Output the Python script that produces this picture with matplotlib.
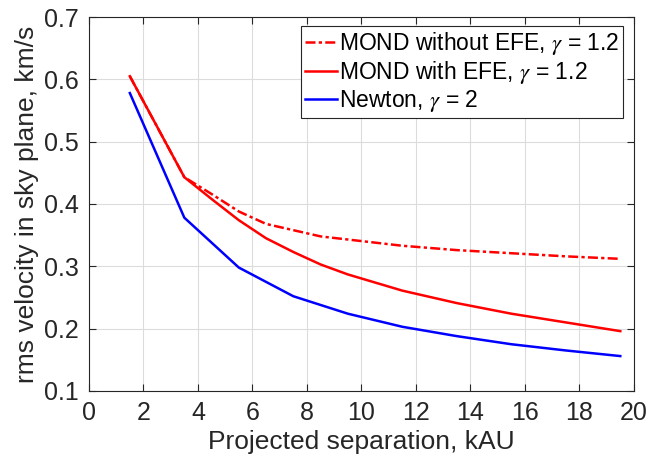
import numpy as np
import matplotlib
matplotlib.use('Agg')
import matplotlib.pyplot as plt

plt.rcParams['font.family'] = ['Liberation Sans', 'DejaVu Sans']
plt.rcParams['mathtext.fontset'] = 'stix'

# projected separation (kAU)
x_mond = [1.5, 3.5, 4.5, 5.5, 6.5, 7.5, 8.5, 9.5, 11.5, 13.5, 15.5, 17.5, 19.5]
x_newton = [1.5, 3.5, 5.5, 7.5, 9.5, 11.5, 13.5, 15.5, 17.5, 19.5]

# rms sky-plane velocity (km/s)
v_mond_noefe = [0.605, 0.443, 0.416, 0.388, 0.368, 0.358, 0.348, 0.343, 0.333, 0.326, 0.321, 0.316, 0.312]
v_mond_efe = [0.605, 0.443, 0.408, 0.374, 0.345, 0.323, 0.303, 0.287, 0.261, 0.241, 0.224, 0.210, 0.196]
v_newton = [0.578, 0.378, 0.298, 0.252, 0.224, 0.203, 0.188, 0.175, 0.165, 0.156]

labels = [r'MOND without EFE, $\gamma$ = 1.2',
          r'MOND with EFE, $\gamma$ = 1.2',
          r'Newton, $\gamma$ = 2']

xticks = np.arange(0, 21, 2)
yticks = [0.1, 0.2, 0.3, 0.4, 0.5, 0.6, 0.7]

fig = plt.figure(figsize=(6.61, 4.66), dpi=100)
ax = fig.add_axes([0.1346, 0.161, 0.8244, 0.8025])

ax.plot(x_mond, v_mond_noefe, color='red', lw=1.8, linestyle=(0, (4, 1.3, 1.3, 1.3)), label=labels[0])
ax.plot(x_mond, v_mond_efe, color='red', lw=1.8, label=labels[1])
ax.plot(x_newton, v_newton, color='blue', lw=1.8, label=labels[2])

ax.set_xlim(0, 20)
ax.set_ylim(0.1, 0.7)
ax.set_xticks(xticks)
ax.set_yticks(yticks)
ax.set_yticklabels(['%.1f' % t for t in yticks])
ax.grid(True, color='#dcdcdc', lw=0.8)
ax.set_axisbelow(True)
ax.tick_params(direction='in', top=True, right=True, labelsize=18, colors='#262626',
               length=5, width=0.8, pad=7)
for s in ax.spines.values():
    s.set_color('#262626')
    s.set_linewidth(0.8)

ax.set_xlabel('Projected separation, kAU', fontsize=19, color='#262626', labelpad=4)
ax.set_ylabel('rms velocity in sky plane, km/s', fontsize=19, color='#262626', labelpad=4)

leg = ax.legend(loc='upper right', bbox_to_anchor=(0.98, 0.975), fontsize=16.5,
                handlelength=1.4, handletextpad=0.1, borderpad=0.15, labelspacing=0.1,
                borderaxespad=0, fancybox=False, framealpha=1)
leg.get_frame().set_edgecolor('#262626')
leg.get_frame().set_linewidth(0.8)

fig.savefig('out.png', dpi=100)
